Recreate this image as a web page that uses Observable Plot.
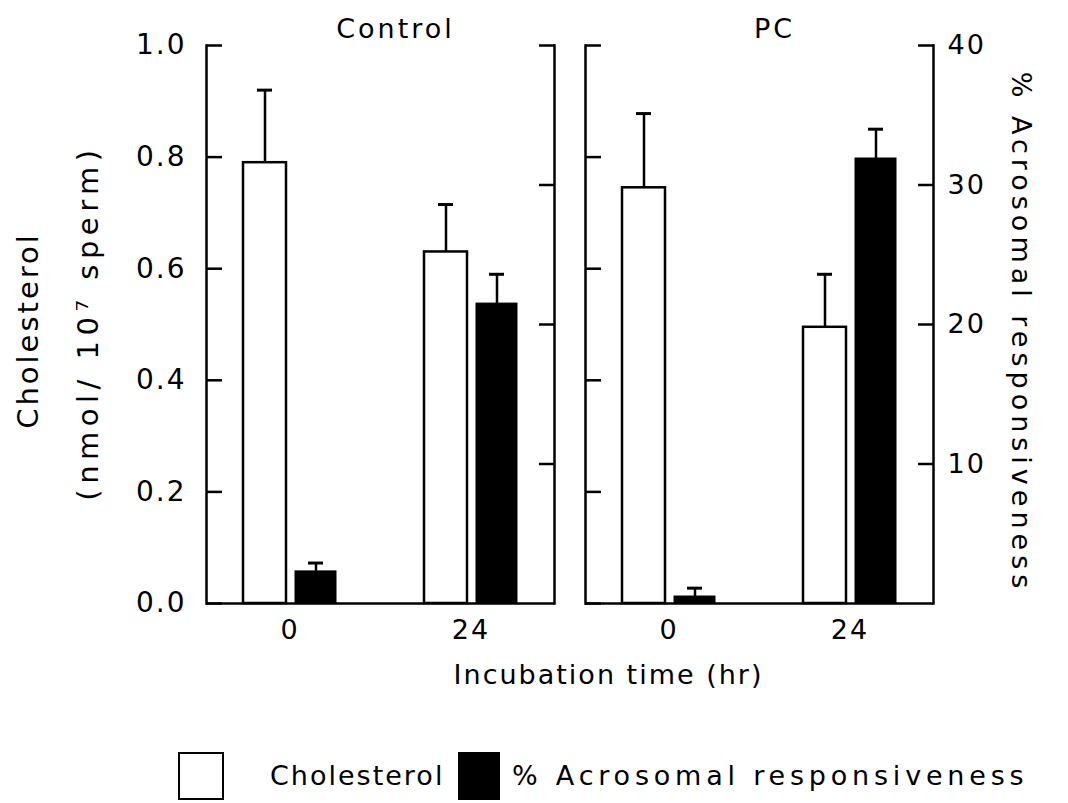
<!DOCTYPE html>
<html>
<head>
<meta charset="utf-8">
<script src="https://cdn.jsdelivr.net/npm/d3@7"></script>
<script src="https://cdn.jsdelivr.net/npm/@observablehq/plot@0.6"></script>
<style>
  body { margin: 0; background: #fff; }
  #chart { width: 1068px; }
  #chart svg text { letter-spacing: 2px; }
  #chart g[aria-label="fx-axis tick label"] text { letter-spacing: 3px; }
  #chart [aria-label="title-chol"], #chart [aria-label="title-chol"] text { letter-spacing: 3px; }
  #chart [aria-label="title-unit"], #chart [aria-label="title-unit"] text { letter-spacing: 5.5px; }
  #chart [aria-label="title-acro"], #chart [aria-label="title-acro"] text { letter-spacing: 5px; }
  .legend { position: relative; width: 1068px; height: 83px; font-family: "DejaVu Sans", sans-serif; font-size: 27px; color: #000; }
  .legend .box { position: absolute; top: 32px; width: 46px; height: 48px; border: 2px solid #000; box-sizing: border-box; }
  .legend .lbl { position: absolute; top: 40px; line-height: 32px; white-space: nowrap; }
</style>
</head>
<body>
<div id="chart"></div>
<script>
// ---- data ----
const panels = ["Control", "PC"];
const times = [0, 24];
// order: Control 0, Control 24, PC 0, PC 24
const cholesterol    = [0.79, 0.63, 0.745, 0.495];   // nmol / 10^7 sperm
const cholesterolErr = [0.13, 0.085, 0.133, 0.095];
const acrosomal      = [2.3, 21.5, 0.5, 31.9];       // %
const acrosomalErr   = [0.6, 2.1, 0.6, 2.1];
const cholTicks = [0, 0.2, 0.4, 0.6, 0.8, 1.0];
const acroTicks = [10, 20, 30, 40];
const acroMax = 40;   // right axis top ↔ cholesterol 1.0
const seriesNames = ["Cholesterol", "% Acrosomal responsiveness"];

const rows = [];
panels.forEach((p, i) => times.forEach((t, j) => {
  const k = i * times.length + j;
  rows.push({panel: p, time: t, chol: cholesterol[k], cholErr: cholesterolErr[k],
             acro: acrosomal[k], acroErr: acrosomalErr[k]});
}));
const acroY = d => d.acro / acroMax;
const acroTop = d => (d.acro + d.acroErr) / acroMax;

const font = "'DejaVu Sans', sans-serif";
const lw = 2.5;

const chart = Plot.plot({
  width: 1068,
  height: 720,
  marginLeft: 205,
  marginRight: 135,
  marginTop: 45,
  marginBottom: 117,
  style: {fontFamily: font, fontSize: "27px", color: "black", background: "white"},
  fx: {domain: panels, paddingInner: 0.082, paddingOuter: 0},
  x: {domain: times, paddingInner: 0.4835, paddingOuter: 0.198},
  y: {domain: [0, 1]},
  marks: [
    // panel frames (left, right, bottom)
    Plot.frame({anchor: "left", strokeWidth: lw}),
    Plot.frame({anchor: "right", strokeWidth: lw}),
    Plot.ruleY([0], {strokeWidth: lw}),
    // inward ticks on every panel
    Plot.axisY(cholTicks, {anchor: "left", tickSize: -16, fill: "none", strokeWidth: lw, facetAnchor: null, label: null}),
    Plot.axisY(acroTicks.map(v => v / acroMax), {anchor: "right", tickSize: -16, fill: "none", strokeWidth: lw, facetAnchor: null, label: null}),
    // tick labels on outer axes only
    Plot.axisY(cholTicks, {anchor: "left", tickSize: 0, tickPadding: 20, tickFormat: d3.format(".1f"), label: null, fontSize: 28}),
    Plot.axisY(acroTicks.map(v => v / acroMax), {anchor: "right", tickSize: 0, tickPadding: 14, tickFormat: d => Math.round(d * acroMax), label: null, fontSize: 27}),
    Plot.axisX({tickSize: 0, tickPadding: 16, label: null, fontSize: 27}),
    Plot.axisFx({anchor: "top", tickSize: 0, tickPadding: 8, label: null, dx: 15, fontSize: 27}),
    // error bars
    Plot.ruleX(rows, {fx: "panel", x: "time", y1: "chol", y2: d => d.chol + d.cholErr, dx: -25, strokeWidth: lw}),
    Plot.ruleX(rows, {fx: "panel", x: "time", y1: acroY, y2: acroTop, dx: 26, strokeWidth: lw}),
    // bars
    Plot.barY(rows, {fx: "panel", x: "time", y: "chol", insetRight: 50, fill: "white", stroke: "black", strokeWidth: lw}),
    Plot.barY(rows, {fx: "panel", x: "time", y: acroY, insetLeft: 52, fill: "black", stroke: "black", strokeWidth: 1}),
    // caps
    Plot.tickY(rows, {fx: "panel", x: "time", y: d => d.chol + d.cholErr, insetLeft: 14, insetRight: 64, strokeWidth: 3}),
    Plot.tickY(rows, {fx: "panel", x: "time", y: acroTop, insetLeft: 65, insetRight: 13, strokeWidth: 3}),
    // axis titles
    Plot.text([{panel: "Control", t: "Cholesterol"}], {ariaLabel: () => "title-chol", fx: "panel", text: "t", frameAnchor: "left", textAnchor: "middle", lineAnchor: "middle", rotate: -90, dx: -178, dy: 6, fontSize: 29}),
    Plot.text([{panel: "Control", t: "(nmol/ 10\u2077 sperm)"}], {ariaLabel: () => "title-unit", fx: "panel", text: "t", frameAnchor: "left", textAnchor: "middle", lineAnchor: "middle", rotate: -90, dx: -118, dy: -2, fontSize: 29}),
    Plot.text([{panel: "PC", t: "% Acrosomal responsiveness"}], {ariaLabel: () => "title-acro", fx: "panel", text: "t", frameAnchor: "right", textAnchor: "middle", lineAnchor: "middle", rotate: 90, dx: 87, dy: 8, fontSize: 27}),
    Plot.text([{panel: "PC", t: "Incubation time (hr)"}], {fx: "panel", text: "t", frameAnchor: "bottom-left", textAnchor: "middle", lineAnchor: "middle", dx: 23, dy: 72, fontSize: 27})
  ]
});
document.getElementById("chart").appendChild(chart);

// legend below the chart
const legend = document.createElement("div");
legend.className = "legend";
legend.innerHTML =
  `<div class="box" style="left:178px;background:#fff"></div>` +
  `<div class="lbl" style="left:270px;letter-spacing:2px">${seriesNames[0]}</div>` +
  `<div class="box" style="left:458px;background:#000;width:42px"></div>` +
  `<div class="lbl" style="left:512px;letter-spacing:4.8px">${seriesNames[1]}</div>`;
document.body.appendChild(legend);
</script>
</body>
</html>
